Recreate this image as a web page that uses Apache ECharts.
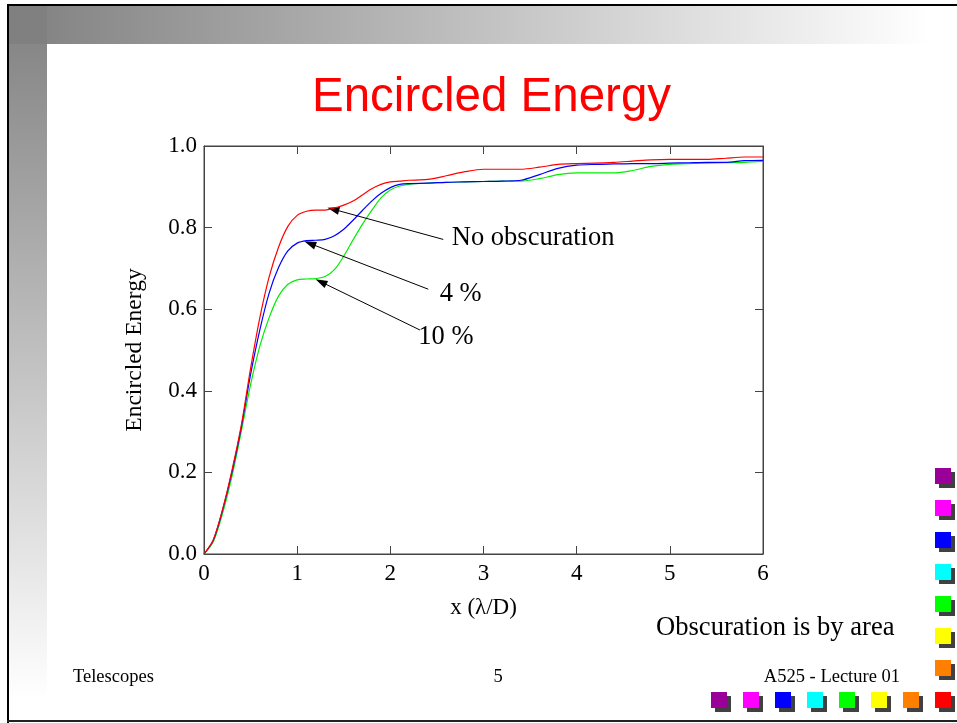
<!DOCTYPE html>
<html>
<head>
<meta charset="utf-8">
<script src="https://cdn.jsdelivr.net/npm/echarts@6/dist/echarts.min.js"></script>
<style>
html,body{margin:0;padding:0;background:#fff;}
#chart{width:957px;height:723px;}
</style>
</head>
<body>
<div id="chart"></div>
<script>
// ---- data ----
const xValues = [0,0.1,0.2,0.3,0.4,0.5,0.6,0.7,0.8,0.9,1.0,1.1,1.2,1.3,1.4,1.5,1.6,1.7,1.8,1.9,2.0,2.1,2.2,2.4,2.6,2.8,3.0,3.2,3.4,3.6,3.8,4.0,4.2,4.4,4.6,4.8,5.0,5.2,5.4,5.6,5.8,6.0];
const noObscuration = [0,0.035,0.11,0.205,0.315,0.455,0.58,0.68,0.752,0.803,0.83,0.84,0.843,0.843,0.848,0.855,0.865,0.88,0.895,0.906,0.912,0.914,0.916,0.918,0.927,0.937,0.943,0.943,0.943,0.948,0.955,0.957,0.958,0.96,0.963,0.966,0.967,0.967,0.967,0.970,0.973,0.973];
const obsc4 = [0,0.034,0.108,0.2,0.31,0.44,0.55,0.64,0.702,0.743,0.762,0.768,0.769,0.771,0.78,0.796,0.818,0.842,0.865,0.884,0.898,0.906,0.908,0.909,0.911,0.912,0.913,0.914,0.916,0.93,0.945,0.953,0.955,0.956,0.957,0.957,0.958,0.959,0.96,0.96,0.964,0.965];
const obsc10 = [0,0.03,0.1,0.19,0.3,0.415,0.51,0.58,0.632,0.661,0.672,0.674,0.675,0.68,0.697,0.73,0.77,0.808,0.842,0.873,0.892,0.902,0.906,0.909,0.911,0.912,0.913,0.914,0.914,0.92,0.93,0.934,0.934,0.934,0.94,0.95,0.955,0.957,0.958,0.959,0.96,0.962];
const seriesNames = ['No obscuration','4 %','10 %'];
// annotation arrows: [text anchor x, y] -> [curve point x, y] in data units
const arrowStarts = [[2.568,0.771],[2.407,0.649],[2.318,0.549]];
const arrowEnds = [[1.387,0.845],[1.137,0.761],[1.255,0.667]];
const labelAnchors = [[2.66,0.774],[2.53,0.637],[2.30,0.532]];

const serif = '"Liberation Serif","Times New Roman",Times,serif';
const sans = '"Liberation Sans",Arial,Helvetica,sans-serif';
const zip = (ys) => xValues.map((x,i)=>[x,ys[i]]);

const chart = echarts.init(document.getElementById('chart'));
const axisCol = '#444';
const lineColors = ['#ff0000','#0000ff','#00ee00'];
const allY = [noObscuration, obsc4, obsc10];

const series = allY.map((ys,i)=>({
  name: seriesNames[i], type:'line', data: zip(ys), showSymbol:false, smooth:0.3,
  lineStyle:{color:lineColors[i], width:1.2}, z: 5 - i,
  markLine:{silent:true, symbol:['none','triangle'], symbolSize:[8,12],
    lineStyle:{color:'#000', width:1, type:'solid'}, label:{show:false},
    itemStyle:{color:'#000'},
    data:[[{coord:arrowStarts[i]},{coord:arrowEnds[i]}]]}
}));

const tickCfg = {show:true, inside:true, length:8, lineStyle:{color:axisCol}};
const lineCfg = {show:true, onZero:false, lineStyle:{color:axisCol}};

const option = {
  animation:false,
  backgroundColor:'#ffffff',
  title:{text:'Encircled Energy', left:307, top:69,
    textStyle:{color:'#ff0000', fontFamily:sans, fontSize:47.5, fontWeight:'normal'}},
  grid:{left:204, right:194, top:146, bottom:169, show:true, borderColor:axisCol, borderWidth:1},
  xAxis:[{type:'value', min:0, max:6, interval:1, position:'bottom',
      axisLine:lineCfg, axisTick:tickCfg,
      axisLabel:{color:'#000', fontFamily:serif, fontSize:23, margin:8},
      splitLine:{show:false},
      name:'x (\u03bb/D)', nameLocation:'middle', nameGap:42,
      nameTextStyle:{color:'#000', fontFamily:serif, fontSize:23}},
    {type:'value', min:0, max:6, interval:1, position:'top',
      axisLine:lineCfg, axisTick:tickCfg,
      axisLabel:{show:false}, splitLine:{show:false}}],
  yAxis:[{type:'value', min:0, max:1, interval:0.2, position:'left',
      axisLine:lineCfg, axisTick:tickCfg,
      axisLabel:{color:'#000', fontFamily:serif, fontSize:23, margin:7, formatter:v=>v.toFixed(1)},
      splitLine:{show:false},
      name:'Encircled Energy', nameLocation:'middle', nameGap:57,
      nameTextStyle:{color:'#000', fontFamily:serif, fontSize:23.5}},
    {type:'value', min:0, max:1, interval:0.2, position:'right',
      axisLine:lineCfg, axisTick:tickCfg,
      axisLabel:{show:false}, splitLine:{show:false}}],
  series: series
};
chart.setOption(option);

// decorations (slide frame, gradient bars, colour squares, footer)
const W = 957, H = 723;
const g = [];
g.push({type:'rect', z:-20, shape:{x:9,y:6,width:W-9,height:38},
  style:{fill:new echarts.graphic.LinearGradient(0,0,1,0,[{offset:0,color:'#808080'},{offset:0.97,color:'#ffffff'},{offset:1,color:'#ffffff'}])}});
g.push({type:'rect', z:-20, shape:{x:9,y:6,width:38,height:H-8},
  style:{fill:new echarts.graphic.LinearGradient(0,0,0,1,[{offset:0,color:'#808080'},{offset:0.97,color:'#ffffff'},{offset:1,color:'#ffffff'}])}});
g.push({type:'rect', z:-20, shape:{x:9,y:6,width:38,height:38}, style:{fill:'#808080'}});
g.push({type:'rect', z:-10, shape:{x:7,y:4,width:W-7,height:2}, style:{fill:'#000'}});
g.push({type:'rect', z:-10, shape:{x:7,y:4,width:2,height:H-4}, style:{fill:'#000'}});
g.push({type:'rect', z:-10, shape:{x:7,y:720,width:W-7,height:2}, style:{fill:'#222'}});

const sqColors = ['#990099','#ff00ff','#0000ff','#00ffff','#00ff00','#ffff00','#ff8000','#ff0000'];
sqColors.forEach((c,i)=>{
  const cy = 468 + i*32;
  g.push({type:'rect', z:-5, shape:{x:939,y:cy+4,width:16,height:16}, style:{fill:'#404040'}});
  g.push({type:'rect', z:-4, shape:{x:935,y:cy,width:16,height:16}, style:{fill:c}});
  const cx = 711 + i*32;
  g.push({type:'rect', z:-5, shape:{x:cx+4,y:696,width:16,height:16}, style:{fill:'#404040'}});
  g.push({type:'rect', z:-4, shape:{x:cx,y:692,width:16,height:16}, style:{fill:c}});
});

const txt = (t,x,y,size,align)=>({type:'text', z:10, x:x, y:y,
  style:{text:t, fill:'#000', font:size+'px '+serif, textAlign:align||'left', textVerticalAlign:'middle'}});
g.push(txt('Telescopes',73,677,18.5));
g.push(txt('5',498,677,18.5,'center'));
g.push(txt('A525 - Lecture 01',900,677,18.5,'right'));
g.push(txt('Obscuration is by area',656,628,26.6));

labelAnchors.forEach((p,i)=>{
  const px = chart.convertToPixel({xAxisIndex:0,yAxisIndex:0}, p);
  g.push(txt(seriesNames[i], px[0], px[1], 26.5));
});
chart.setOption({graphic:{elements:g}});
</script>
</body>
</html>
